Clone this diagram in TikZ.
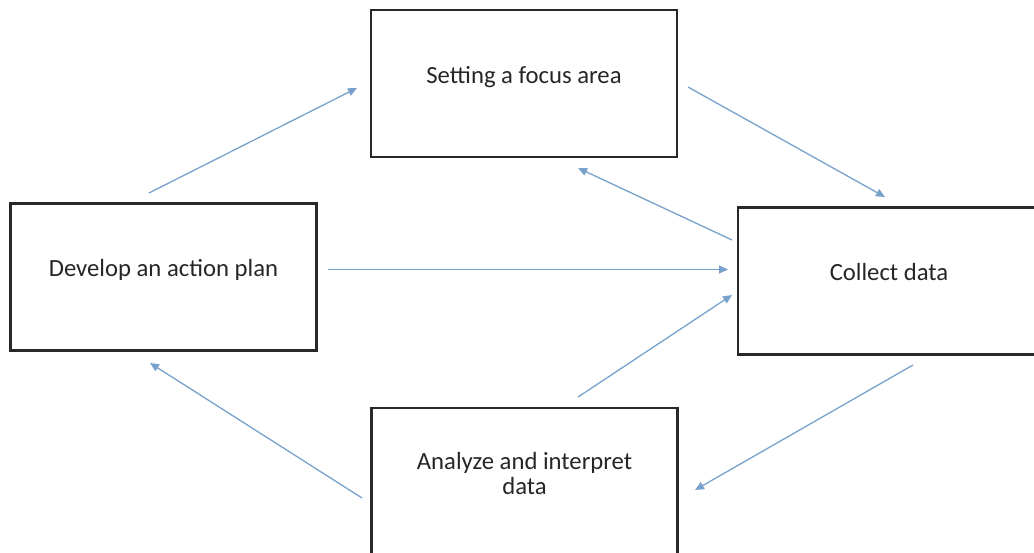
\documentclass[tikz,border=0pt]{standalone}
\usepackage{fontspec}
\setmainfont{Carlito}
\usetikzlibrary{arrows.meta}
\definecolor{boxgray}{RGB}{40,40,40}
\definecolor{flowblue}{RGB}{120,162,204}

\begin{document}
\begin{tikzpicture}[x=1pt,y=-1pt,
  stage/.style={draw=boxgray,line width=2.6pt,minimum width=306pt,minimum height=147pt,
    font=\fontsize{24.7}{25}\selectfont,text=black!85,text height=0pt,text depth=0pt,align=center},
  flow/.style={draw=flowblue,line width=1.3pt,-{Triangle[length=9pt,width=8pt]}}]
	% page
	\path[use as bounding box,clip] (0,0) rectangle (1034,553);
	% stages
	\node[stage] (focus) at (524,83.5) {Setting a focus area};
	\node[stage] (plan) at (163.5,277) {Develop an action plan};
	\node[stage,minimum width=302pt] (collect) at (889,281) {Collect data};
	\node[stage,text height=25pt] (analyze) at (524.5,481.5) {Analyze and interpret\\data};
	% arrow ends
	\coordinate (plan-out) at (149,193);   \coordinate (focus-in) at (357,88);
	\coordinate (focus-out) at (688,87);   \coordinate (collect-in) at (885,197);
	\coordinate (collect-back) at (732,240); \coordinate (focus-back) at (578,168);
	\coordinate (plan-right) at (328,269.5); \coordinate (collect-left) at (728,269.5);
	\coordinate (analyze-up) at (578,397); \coordinate (collect-low) at (732,295);
	\coordinate (collect-down) at (913,365); \coordinate (analyze-in) at (695,490);
	\coordinate (analyze-out) at (362,498); \coordinate (plan-in) at (150,363);
	% arrows
	\draw[flow] (plan-out) -- (focus-in);
	\draw[flow] (focus-out) -- (collect-in);
	\draw[flow] (collect-back) -- (focus-back);
	\draw[flow] (plan-right) -- (collect-left);
	\draw[flow] (analyze-up) -- (collect-low);
	\draw[flow] (collect-down) -- (analyze-in);
	\draw[flow] (analyze-out) -- (plan-in);
\end{tikzpicture}
\end{document}
